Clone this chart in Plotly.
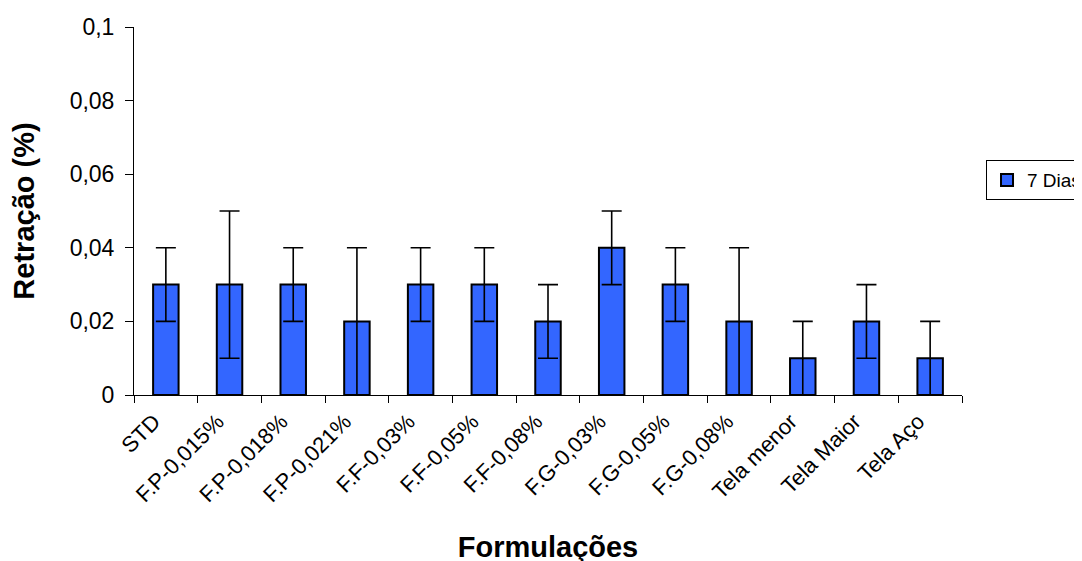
import plotly.graph_objects as go

categories = ["STD", "F.P-0,015%", "F.P-0,018%", "F.P-0,021%", "F.F-0,03%", "F.F-0,05%",
              "F.F-0,08%", "F.G-0,03%", "F.G-0,05%", "F.G-0,08%", "Tela menor", "Tela Maior", "Tela Aço"]
values_7dias = [0.03, 0.03, 0.03, 0.02, 0.03, 0.03, 0.02, 0.04, 0.03, 0.02, 0.01, 0.02, 0.01]
errors_7dias = [0.01, 0.02, 0.01, 0.02, 0.01, 0.01, 0.01, 0.01, 0.01, 0.02, 0.01, 0.01, 0.01]
y_ticks = [0, 0.02, 0.04, 0.06, 0.08, 0.1]

fig = go.Figure()
fig.add_trace(go.Bar(
    x=categories, y=values_7dias, name="7 Dias",
    marker=dict(color="#3366FF", line=dict(color="black", width=2)),
    width=0.4,
    error_y=dict(type="data", array=errors_7dias, visible=True, color="black",
                 thickness=1.6, width=10),
))

font_family = "Liberation Sans, Arial, sans-serif"
fig.update_layout(
    width=1082, height=561,
    paper_bgcolor="white", plot_bgcolor="white",
    margin=dict(l=126, r=128, t=19, b=174, autoexpand=False),
    separators=",.",
    font=dict(family=font_family, color="black"),
    showlegend=True,
    legend=dict(x=1.029, xanchor="left", y=0.584, yanchor="middle",
                bordercolor="black", borderwidth=1, bgcolor="white",
                font=dict(size=19, family=font_family),
                itemsizing="constant"),
    xaxis=dict(
        automargin=False,
        showline=True, linecolor="black", linewidth=1,
        ticks="outside", tickson="boundaries", ticklen=7, tickcolor="black",
        tickangle=-45, tickfont=dict(size=22),
        ticklabelshift=-12, ticklabelstandoff=4,
        title=dict(text="<b>Formulações</b>", font=dict(size=29), standoff=30),
        showgrid=False,
    ),
    yaxis=dict(
        automargin=False,
        range=[0, 0.1], tickvals=y_ticks,
        showline=True, linecolor="black", linewidth=1,
        ticks="outside", ticklen=8, tickcolor="black",
        tickfont=dict(size=23), ticklabelstandoff=6,
        title=dict(text="<b>Retração (%)</b>", font=dict(size=29), standoff=30),
        showgrid=False, zeroline=False,
    ),
)

fig.write_html("out.html")
